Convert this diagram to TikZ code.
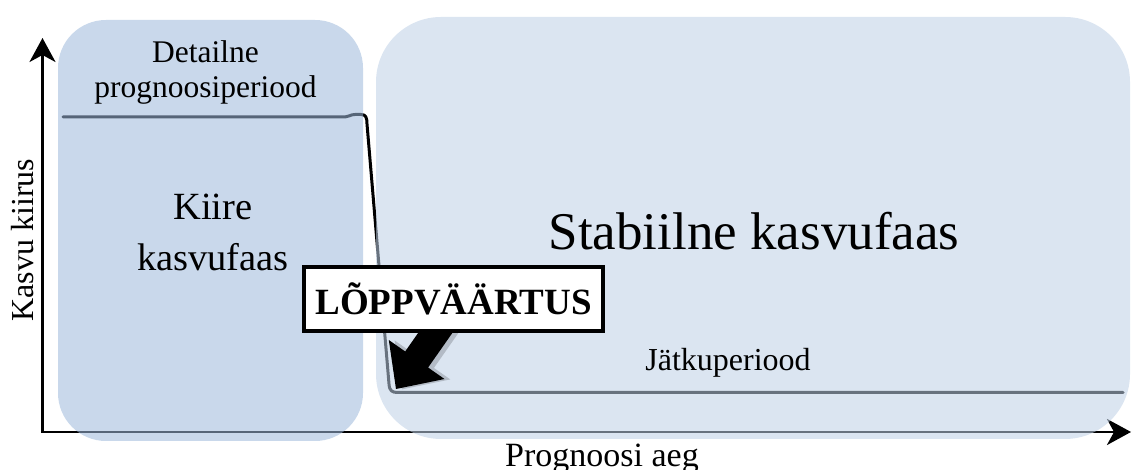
\documentclass[tikz,border=0pt]{standalone}
\usepackage{fontspec}
\setmainfont{Liberation Serif}
\usetikzlibrary{arrows.meta}
\definecolor{fastfill}{RGB}{157,184,219}
\definecolor{stablefill}{RGB}{190,208,230}
\begin{document}
\begin{tikzpicture}[x=1pt,y=1pt,
  >={Stealth[length=24pt,width=26pt,inset=7pt]},
  axisline/.style={line width=2.6pt, black, <->},
  curve/.style={line width=3pt, black, line join=round, line cap=round},
  phase/.style={fill opacity=0.55, rounded corners=#1},
  lbl/.style={inner sep=0pt, align=center, text=black},
]
\useasboundingbox (0,0) rectangle (1132,470);

% axes
\coordinate (origin) at (42.5,38);
\coordinate (ytip) at (42.5,432);
\coordinate (xtip) at (1131,38);
\draw[axisline] (ytip) |- (xtip);

% growth-rate curve
\coordinate (c0) at (63,353);
\coordinate (c1) at (1123,77.5);
\draw[curve] (c0) -- (345,353) .. controls (349,353) and (350,355.5) .. (355,355.5)
  -- (361,355.5) .. controls (366,355.5) and (367,352) .. (367,346)
  -- (389,86) .. controls (389.5,79) and (392,77.5) .. (398,77.5) -- (c1);

% phases
\fill[fastfill, phase=48pt] (58,29) rectangle (363,450);
\fill[stablefill, phase=65pt] (376,31) rectangle (1130,453);

% texts
\node[lbl, font=\fontsize{31.5}{35}\selectfont] (detail) at (205.5,398) {Detailne\\prognoosiperiood};
\node[lbl, font=\fontsize{38.5}{51}\selectfont] (fast) at (213,238) {Kiire\\kasvufaas};
\node[lbl, font=\fontsize{53}{60}\selectfont, anchor=base] (stable) at (754,220) {Stabiilne kasvufaas};
\node[lbl, font=\fontsize{32}{36}\selectfont, anchor=base] (cont) at (728,99) {Jätkuperiood};
\node[lbl, font=\fontsize{34}{38}\selectfont, anchor=base] (xlab) at (602,3) {Prognoosi aeg};
\node[lbl, font=\fontsize{32}{36}\selectfont, rotate=90, anchor=base] (ylab) at (33,230) {Kasvu kiirus};

% block arrow to the terminal value
\coordinate (tip) at (396,81);
\begin{scope}[shift={(tip)}, rotate=55]
  \fill[black, opacity=0.18] (3,-5) -- (39,29) -- (39,9) -- (98,9) -- (98,-19) -- (39,-19) -- (39,-39) -- cycle;
  \fill[black] (0,0) -- (36,34) -- (36,14) -- (95,14) -- (95,-14) -- (36,-14) -- (36,-34) -- cycle;
\end{scope}

\node[draw, line width=4pt, fill=white, minimum width=299pt, minimum height=64pt, inner sep=0pt,
  font=\bfseries\fontsize{37}{40}\selectfont] (tv) at (453.5,171) {LÕPPVÄÄRTUS};
\end{tikzpicture}
\end{document}
